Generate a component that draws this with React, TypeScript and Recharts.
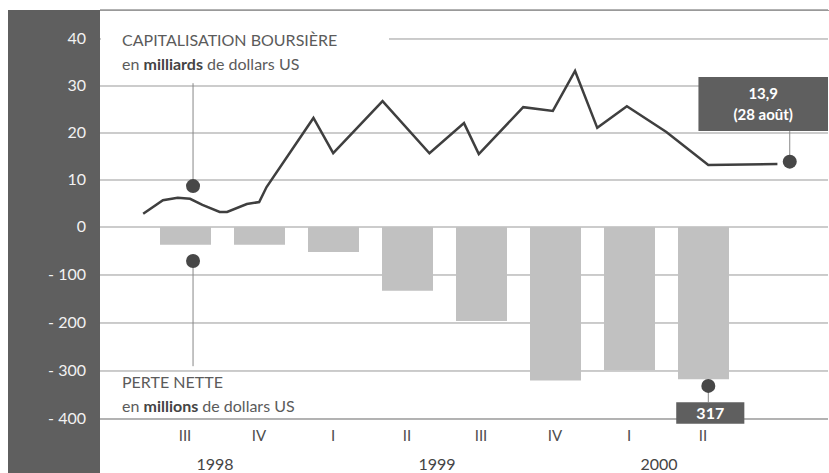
import {
  ComposedChart,
  Bar,
  Line,
  XAxis,
  YAxis,
  CartesianGrid,
  ReferenceLine,
  ReferenceDot,
  ReferenceArea,
} from "recharts";

// pertes nettes trimestrielles (millions $US)
const quarters = ["III", "IV", "I", "II", "III", "IV", "I", "II"];
const years = ["1998", "", "", "1999", "", "", "2000", ""];
const losses = [-37, -37, -52, -133, -196, -320, -298, -317];

// capitalisation boursière (milliards $US), x en mois depuis juillet 1998
const capMonths = [-0.2, 0.6, 1.2, 1.7, 2.2, 2.9, 3.2, 4.0, 4.5, 4.8, 6.7, 7.5, 9.5, 11.4, 12.8, 13.4, 15.2, 16.4, 17.3, 18.2, 19.4, 21.0, 22.7, 25.5];
const capValues = [2.8, 5.7, 6.2, 6.0, 4.7, 3.2, 3.2, 4.9, 5.3, 8.5, 23.2, 15.7, 26.8, 15.7, 22.1, 15.5, 25.5, 24.7, 33.2, 21.1, 25.7, 20.2, 13.2, 13.4];

const capTicks = [0, 10, 20, 30, 40];
const lossTicks = [-100, -200, -300, -400];
const lastCap = { m: 26.0, value: 13.9, label: ["13,9", "(28 août)"] };
const maxLoss = { m: 22.7, value: 317 };

const lossData = quarters.map((q, i) => ({ q, year: years[i], loss: losses[i] }));
const capData = capMonths.map((m, i) => ({ m, cap: capValues[i] }));

const FONT = "Lato, 'Open Sans', sans-serif";
const DARK = "#5f5f5f";
const DOT = "#474747";

const YTick = ({ y, payload, neg }: any) => (
  <text x={86} y={y} dy={5} textAnchor="end" fill="#f2f2f2" fontSize={16} fontFamily={FONT}>
    {neg ? "- " + Math.abs(payload.value) : payload.value}
  </text>
);

const XTick = ({ x, y, payload, index }: any) => (
  <g>
    <text x={x} y={y} dy={14} textAnchor="middle" fill="#4d4d4d" fontSize={15} fontFamily={FONT}>
      {payload.value}
    </text>
    {years[index] ? (
      <text x={x + 30} y={y} dy={43} textAnchor="middle" fill="#444" fontSize={16} fontFamily={FONT}>
        {years[index]}
      </text>
    ) : null}
  </g>
);

const boxLabel = (lines: string[], size: number) => (props: any) => {
  const { x, y, width, height } = props.viewBox;
  const lh = size + 6;
  const top = y + height / 2 - ((lines.length - 1) * lh) / 2;
  return (
    <text textAnchor="middle" fill="#fff" fontSize={size} fontWeight={700} fontFamily={FONT}>
      {lines.map((l, i) => (
        <tspan key={i} x={x + width / 2} y={top + i * lh} dy={size * 0.35}>
          {l}
        </tspan>
      ))}
    </text>
  );
};

export default function App() {
  return (
    <div style={{ position: "absolute", left: 0, top: 0, width: 829, height: 473, background: "#fff", fontFamily: FONT }}>
      <div style={{ position: "absolute", left: 8, top: 10, width: 92, height: 463, background: DARK }} />
      <div style={{ position: "absolute", left: 100, top: 10, width: 729, height: 1, background: "#999" }} />
      <ComposedChart
        width={829}
        height={473}
        data={lossData}
        margin={{ top: 10, right: 0, bottom: 0, left: 8 }}
        style={{ position: "absolute", left: 0, top: 0 }}
      >
        <CartesianGrid yAxisId="cap" xAxisId="q" vertical={false} stroke="#999" />
        <CartesianGrid yAxisId="loss" xAxisId="q" vertical={false} stroke="#999" />
        <XAxis
          xAxisId="q"
          dataKey="q"
          height={54}
          padding={{ left: 48, right: 88 }}
          axisLine={false}
          tickLine={false}
          interval={0}
          tick={<XTick />}
        />
        <XAxis xAxisId="t" dataKey="m" type="number" domain={[-1.95, 27.55]} allowDataOverflow hide />
        <YAxis
          yAxisId="cap"
          width={92}
          domain={[-40.85, 46.17]}
          ticks={capTicks}
          allowDataOverflow
          interval={0}
          axisLine={false}
          tickLine={false}
          tick={<YTick />}
        />
        <YAxis
          yAxisId="loss"
          orientation="right"
          width={1}
          domain={[-400, 452]}
          ticks={lossTicks}
          allowDataOverflow
          interval={0}
          axisLine={false}
          tickLine={false}
          tick={<YTick neg />}
        />
        <Bar dataKey="loss" xAxisId="q" yAxisId="loss" barSize={51} fill="#c1c1c1" isAnimationActive={false} />
        <Line
          data={capData}
          dataKey="cap"
          xAxisId="t"
          yAxisId="cap"
          type="linear"
          stroke="#3f3f3f"
          strokeWidth={2.5}
          dot={false}
          isAnimationActive={false}
        />
        {/* annotations */}
        <ReferenceLine xAxisId="t" yAxisId="cap" segment={[{ x: 1.82, y: 30.6 }, { x: 1.82, y: 8.7 }]} stroke="#888" />
        <ReferenceDot xAxisId="t" yAxisId="cap" x={1.82} y={8.7} r={7} fill={DOT} stroke="none" />
        <ReferenceLine xAxisId="t" yAxisId="loss" segment={[{ x: 1.82, y: -71 }, { x: 1.82, y: -290 }]} stroke="#888" />
        <ReferenceDot xAxisId="t" yAxisId="loss" x={1.82} y={-71} r={7} fill={DOT} stroke="none" />

        <ReferenceArea
          xAxisId="t"
          yAxisId="cap"
          x1={22.3}
          x2={27.55}
          y1={20.4}
          y2={31.9}
          fill={DARK}
          fillOpacity={1}
          ifOverflow="visible"
          label={boxLabel(lastCap.label, 15)}
        />
        <ReferenceLine xAxisId="t" yAxisId="cap" segment={[{ x: lastCap.m, y: 20.4 }, { x: lastCap.m, y: lastCap.value }]} stroke="#888" />
        <ReferenceDot xAxisId="t" yAxisId="cap" x={lastCap.m} y={lastCap.value} r={7} fill={DOT} stroke="none" />

        <ReferenceLine xAxisId="t" yAxisId="loss" segment={[{ x: maxLoss.m, y: -331 }, { x: maxLoss.m, y: -365 }]} stroke="#888" ifOverflow="visible" />
        <ReferenceArea
          xAxisId="t"
          yAxisId="loss"
          x1={21.4}
          x2={24.16}
          y1={-365}
          y2={-410}
          fill={DARK}
          fillOpacity={1}
          ifOverflow="visible"
          label={boxLabel([String(maxLoss.value)], 16)}
        />
        <ReferenceDot xAxisId="t" yAxisId="loss" x={maxLoss.m} y={-331} r={7} fill={DOT} stroke="none" />
      </ComposedChart>
      <div
        style={{
          position: "absolute",
          left: 101,
          top: 28,
          width: 267,
          paddingLeft: 21,
          background: "#fff",
          fontSize: 16,
          lineHeight: "24px",
          color: "#5b5b5b",
        }}
      >
        <div>CAPITALISATION BOURSIÈRE</div>
        <div>
          en <b style={{ color: "#444" }}>milliards</b> de dollars US
        </div>
      </div>
      <div
        style={{
          position: "absolute",
          left: 122,
          top: 370,
          fontSize: 16,
          lineHeight: "24px",
          color: "#5b5b5b",
        }}
      >
        <div>PERTE NETTE</div>
        <div>
          en <b style={{ color: "#444" }}>millions</b> de dollars US
        </div>
      </div>
    </div>
  );
}
